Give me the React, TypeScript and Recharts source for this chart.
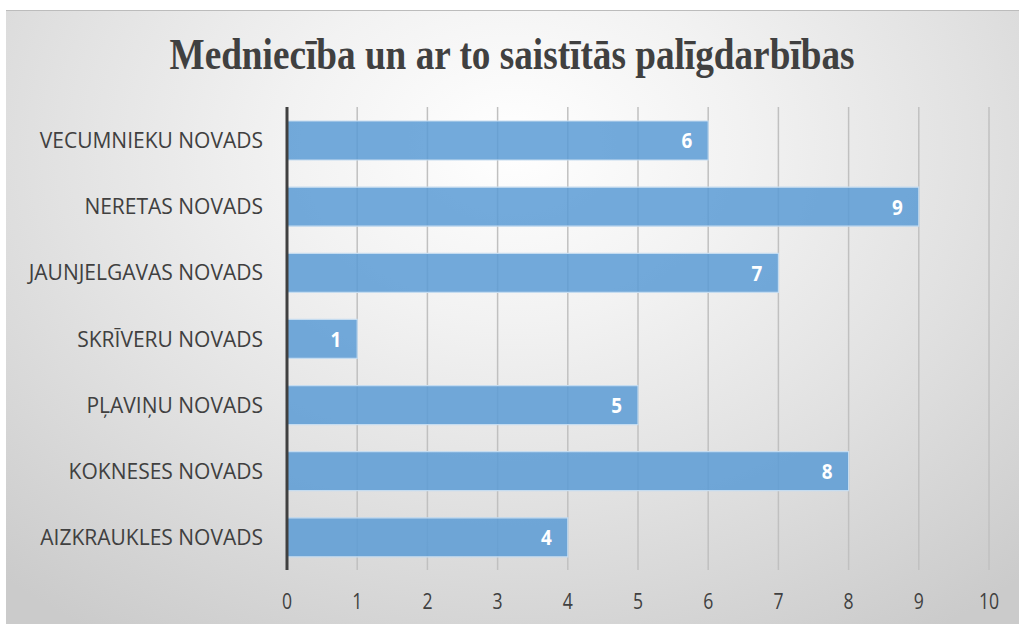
import React from "react";
import { BarChart, Bar, XAxis, YAxis, CartesianGrid, LabelList } from "recharts";

const categories = [
  "VECUMNIEKU NOVADS",
  "NERETAS NOVADS",
  "JAUNJELGAVAS NOVADS",
  "SKRĪVERU NOVADS",
  "PĻAVIŅU NOVADS",
  "KOKNESES NOVADS",
  "AIZKRAUKLES NOVADS",
];
const values = [6, 9, 7, 1, 5, 8, 4];
const xTicks = [0, 1, 2, 3, 4, 5, 6, 7, 8, 9, 10];
const title = "Medniecība un ar to saistītās palīgdarbības";

const data = categories.map((name, i) => ({ name, value: values[i] }));

const W = 1013;
const H = 614;

const YTick = (props: any) => {
  const { x, y, payload } = props;
  return (
    <text
      x={x}
      y={y}
      textAnchor="end"
      dominantBaseline="central"
      fill="#404040"
      fontSize={21}
      fontFamily="'Open Sans', sans-serif"
    >
      {payload.value}
    </text>
  );
};

const XTick = (props: any) => {
  const { x, y, payload } = props;
  return (
    <g transform={`translate(${x},${y + 23}) scale(0.8,1)`}>
      <text
        x={0}
        y={0}
        textAnchor="middle"
        dominantBaseline="central"
        fill="#404040"
        fontSize={22}
        fontFamily="'Open Sans', sans-serif"
      >
        {payload.value}
      </text>
    </g>
  );
};

const BarLabel = (props: any) => {
  const { x, y, width, height, value } = props;
  return (
    <g transform={`translate(${x + width - 16},${y + height / 2}) scale(0.9,1)`}>
      <text
        x={0}
        y={0}
        textAnchor="end"
        dominantBaseline="central"
        fill="#ffffff"
        fontSize={21}
        fontWeight="bold"
        fontFamily="'Open Sans', sans-serif"
      >
        {value}
      </text>
    </g>
  );
};

export default function App() {
  return (
    <div
      style={{
        position: "absolute",
        left: 6,
        top: 10,
        width: W,
        height: H,
        background:
          "radial-gradient(ellipse 75% 95% at 50% 22%, #ffffff 0%, #f2f2f2 30%, #e2e2e2 60%, #cbcbcb 100%)",
        borderTop: "1px solid #bcbcbc",
        boxSizing: "border-box",
      }}
    >
      <svg
        width={W}
        height={90}
        style={{ position: "absolute", left: 0, top: 0 }}
      >
        <text
          x={W / 2 - 0.5}
          y={58}
          textAnchor="middle"
          textLength={685}
          lengthAdjust="spacingAndGlyphs"
          fill="#404040"
          fontSize={45}
          fontWeight="bold"
          fontFamily="'Liberation Serif', 'Times New Roman', serif"
        >
          {title}
        </text>
      </svg>
      <div style={{ position: "absolute", left: 0, top: -1 }}>
        <BarChart
          width={W}
          height={H}
          data={data}
          layout="vertical"
          margin={{ top: 97, right: 30, bottom: 0, left: 0 }}
          barSize={39}
        >
          <CartesianGrid
            horizontal={false}
            vertical={true}
            stroke="#c0c0c0"
            strokeWidth={1.5}
          />
          <XAxis
            type="number"
            domain={[0, 10]}
            ticks={xTicks}
            interval={0}
            axisLine={false}
            tickLine={false}
            height={54}
            tick={<XTick />}
          />
          <YAxis
            type="category"
            dataKey="name"
            width={281}
            axisLine={{ stroke: "#404040", strokeWidth: 3 }}
            tickLine={false}
            tickMargin={0}
            tick={(p: any) => <YTick {...p} x={p.x - 18} />}
          />
          <Bar
            dataKey="value"
            fill="#5b9bd5"
            fillOpacity={0.85}
            stroke="#c5dcf0"
            strokeWidth={1.2}
            isAnimationActive={false}
          >
            <LabelList dataKey="value" content={<BarLabel />} />
          </Bar>
        </BarChart>
      </div>
    </div>
  );
}
